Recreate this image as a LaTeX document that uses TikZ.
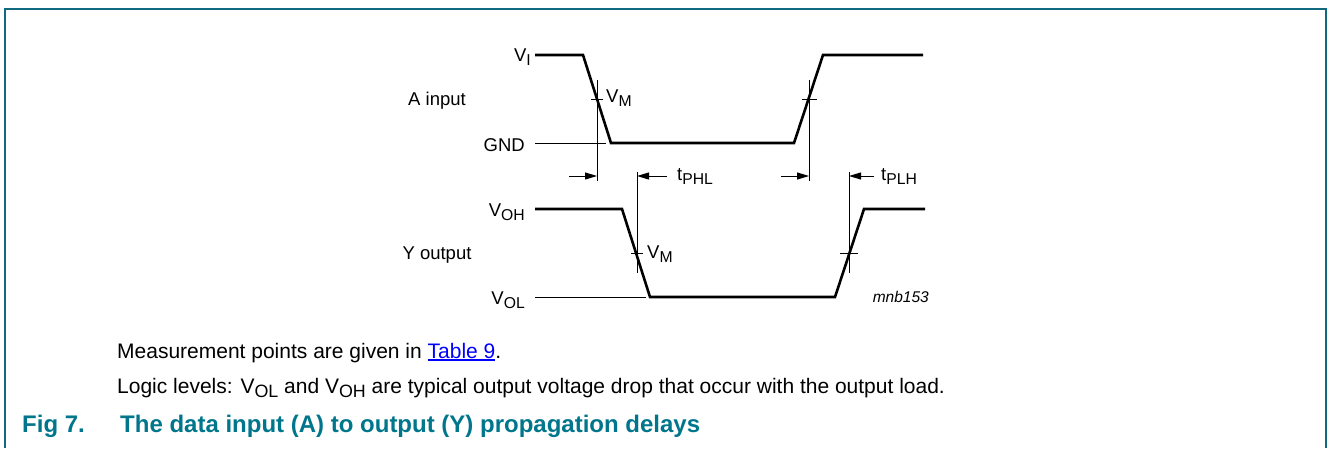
\documentclass[tikz,border=0pt]{standalone}
\usepackage{fontspec}
\setmainfont{Liberation Sans}
\usetikzlibrary{arrows.meta}
\definecolor{framecol}{RGB}{16,105,128}
\definecolor{capcol}{RGB}{0,118,140}
\definecolor{linkblue}{RGB}{0,0,255}
\newcommand\lvsub[1]{\raisebox{-0.22em}{\scalebox{0.85}{#1}}}
\newcommand\linkul[1]{\textcolor{linkblue}{\setbox0\hbox{#1}\rlap{\raisebox{-3pt}{\rule{\wd0}{1.6pt}}}\box0}}
\tikzset{
  wave/.style={line width=2.6pt, line join=miter},
  thin/.style={line width=1pt},
  mark line/.style={line width=0.9pt},
  dimarrow/.style={line width=1pt, -{Triangle[length=12pt,width=7pt]}},
  lbl/.style={inner sep=0pt, font=\fontsize{18.5}{22}\selectfont},
  body/.style={inner sep=0pt, anchor=base west, font=\fontsize{21}{25}\selectfont},
  captxt/.style={inner sep=0pt, anchor=base west, text=capcol, font=\fontsize{24}{28}\selectfont\bfseries},
}
\begin{document}
\begin{tikzpicture}[x=1pt,y=-1pt]
\useasboundingbox (0,0) rectangle (1329,448);
% frame
\draw[framecol, line width=2pt] (5,448) -- (5,9) -- (1326,9) -- (1326,448);

% level labels
\node[lbl, anchor=base east] (vi)  at (531,61)  {V\lvsub{I}};
\node[lbl, anchor=base east] (gnd) at (525,151) {GND};
\node[lbl, anchor=base east] (voh) at (525,216) {V\lvsub{OH}};
\node[lbl, anchor=base east] (vol) at (525,304) {V\lvsub{OL}};
\node[lbl, anchor=base] (ain) at (437,105) {A input};
\node[lbl, anchor=base] (yout) at (437,259) {Y output};

% A input waveform
\coordinate (a0) at (535,55);
\coordinate (a1) at (583,55);
\coordinate (a2) at (611,143);
\coordinate (a3) at (794,143);
\coordinate (a4) at (823,55);
\coordinate (a5) at (923,55);
\draw[wave] (a0) -- (a1) -- (a2) -- (a3) -- (a4) -- (a5);
\coordinate (g0) at (535,143);
\coordinate (g1) at (606,143);
\draw[thin] (g0) -- (g1);

% Y output waveform
\coordinate (y0) at (535,209);
\coordinate (y1) at (622,209);
\coordinate (y2) at (650,297);
\coordinate (y3) at (835,297);
\coordinate (y4) at (864,209);
\coordinate (y5) at (925,209);
\draw[wave] (y0) -- (y1) -- (y2) -- (y3) -- (y4) -- (y5);
\coordinate (l0) at (535,297);
\coordinate (l1) at (646,297);
\draw[thin] (l0) -- (l1);

% measurement verticals
\coordinate (m1t) at (597,80);  \coordinate (m1b) at (597,181);
\coordinate (m2t) at (809,80);  \coordinate (m2b) at (809,181);
\coordinate (m3t) at (637,172); \coordinate (m3b) at (637,273);
\coordinate (m4t) at (849,172); \coordinate (m4b) at (849,273);
\draw[mark line] (m1t) -- (m1b);
\draw[mark line] (m2t) -- (m2b);
\draw[mark line] (m3t) -- (m3b);
\draw[mark line] (m4t) -- (m4b);

% ticks
\coordinate (k1a) at (591,99);  \coordinate (k1b) at (603,99);
\coordinate (k2a) at (802,99);  \coordinate (k2b) at (817,99);
\coordinate (k3a) at (631,253); \coordinate (k3b) at (643,253);
\coordinate (k4a) at (840,253); \coordinate (k4b) at (858,253);
\draw[mark line] (k1a) -- (k1b);
\draw[mark line] (k2a) -- (k2b);
\draw[mark line] (k3a) -- (k3b);
\draw[mark line] (k4a) -- (k4b);

\node[lbl, anchor=base west] (vm1) at (606,102) {V\lvsub{M}};
\node[lbl, anchor=base west] (vm2) at (647,258) {V\lvsub{M}};

% delay arrows
\coordinate (r1) at (569,176); \coordinate (r1e) at (597,176);
\coordinate (r2) at (667,176); \coordinate (r2e) at (637,176);
\coordinate (r3) at (781,176); \coordinate (r3e) at (809,176);
\coordinate (r4) at (874,176); \coordinate (r4e) at (849,176);
\draw[dimarrow] (r1) -- (r1e);
\draw[dimarrow] (r2) -- (r2e);
\draw[dimarrow] (r3) -- (r3e);
\draw[dimarrow] (r4) -- (r4e);
\node[lbl, anchor=base west] (tphl) at (677,180) {t\lvsub{PHL}};
\node[lbl, anchor=base west] (tplh) at (881,180) {t\lvsub{PLH}};

\node[inner sep=0pt, anchor=base east, font=\fontsize{15.5}{18}\selectfont\itshape] (code) at (929,302) {mnb153};

% notes
\node[body] (n1) at (117,358) {Measurement points are given in \linkul{Table 9}.};
\node[body] (n2) at (117,393) {Logic levels: V\lvsub{OL} and V\lvsub{OH} are typical output voltage drop that occur with the output load.};
\node[captxt] (fig) at (22,432) {Fig 7.};
\node[captxt] (cap) at (120,432) {The data input (A) to output (Y) propagation delays};
\end{tikzpicture}
\end{document}
